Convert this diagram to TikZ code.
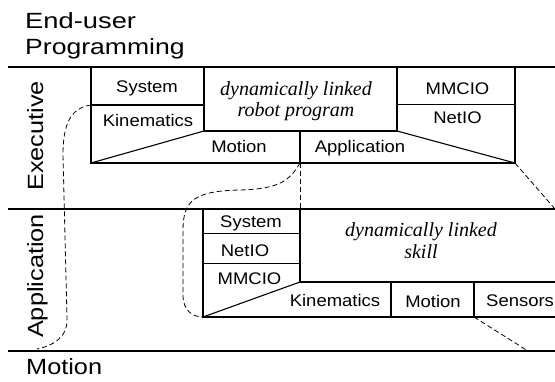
\documentclass[tikz,border=0pt]{standalone}
\usepackage{fontspec}
\usepackage{graphicx}
\setmainfont{Liberation Sans}
\newfontfamily\boxsans{Liberation Sans}[FakeStretch=1.1]
\newfontfamily\bigsans{Liberation Sans}[FakeStretch=1.15]
\newfontfamily\seritfont{Liberation Serif}
\begin{document}
\begin{tikzpicture}[x=1pt,y=-1pt,
  lbl/.style={font=\boxsans\fontsize{16.8}{18}\selectfont, inner sep=0pt, anchor=base},
  biglbl/.style={font=\bigsans\fontsize{22}{24}\selectfont, inner sep=0pt},
  ital/.style={font=\seritfont\itshape\fontsize{20}{21}\selectfont, inner sep=0pt, anchor=base},
  rule/.style={line width=1.3pt},
  box/.style={line width=1.1pt},
  dashline/.style={dash pattern=on 5pt off 3pt, line width=0.8pt}]
\useasboundingbox (0,0) rectangle (555,382);

% layer rules
\draw[rule] (8,67) -- (555,67);
\draw[rule] (8,209) -- (555,209);
\draw[rule] (8,351) -- (555,351);

% layer labels
\node[biglbl, anchor=base west] (eu) at (25,28.5) {\scalebox{1.08}[1]{End-user}};
\node[biglbl, anchor=base west] (pr) at (25,55) {\scalebox{1.05}[1]{Programming}};
\node[biglbl, anchor=base, rotate=90] (ex) at (43,136) {Executive};
\node[biglbl, anchor=base, rotate=90] (ap) at (43,276) {Application};
\node[biglbl, anchor=base west] (mo) at (26,375) {Motion};

% upper box
\coordinate (uTL) at (91,67);
\coordinate (uBL) at (91,163);
\coordinate (uBR) at (515,163);
\coordinate (uTR) at (515,67);
\coordinate (uK) at (91,105);
\coordinate (uKR) at (204,105);
\coordinate (uM1) at (204,131);
\coordinate (uM2) at (397,131);
\coordinate (uA) at (300,131);
\coordinate (uAB) at (300,163);
\draw[box] (uTL) -- (uBL) -- (uBR) -- (uTR);
\draw[box] (uK) -- (uKR);
\draw[box] (204,67) -- (uM1) -- (uM2) -- (397,67);
\draw[box] (397,104.5) -- (515,104.5);
\draw[box] (uBL) -- (uM1);
\draw[box] (uM2) -- (uBR);
\draw[box] (uA) -- (uAB);

\node[lbl] (s1) at (147,92.5) {System};
\node[lbl] (k1) at (148,127) {Kinematics};
\node[lbl] (m1) at (239,153) {Motion};
\node[lbl] (a1) at (360,153) {Application};
\node[lbl] (mm1) at (457.5,95) {MMCIO};
\node[lbl] (n1) at (457.5,124) {NetIO};
\node[ital] (d1) at (296,96) {dynamically linked};
\node[ital] (d2) at (296,116.7) {robot program};

% lower box
\coordinate (lTL) at (203,209);
\coordinate (lBL) at (203,317);
\coordinate (lBR) at (555,317);
\coordinate (lC) at (300,282);
\coordinate (lCT) at (300,209);
\coordinate (lS) at (474,317);
\draw[box] (lTL) -- (lBL) -- (lBR);
\draw[box] (lCT) -- (lC) -- (555,282);
\draw[box] (203,233.5) -- (300,233.5);
\draw[box] (203,263.5) -- (300,263.5);
\draw[box] (lBL) -- (lC);
\draw[box] (391,282) -- (391,317);
\draw[box] (lS) -- (474,282);

\node[lbl] (s2) at (251,227.5) {System};
\node[lbl] (n2) at (245,256.7) {NetIO};
\node[lbl] (mm2) at (249.5,285) {MMCIO};
\node[ital] (d3) at (421,237) {dynamically linked};
\node[ital] (d4) at (421,259) {skill};
\node[lbl] (k2) at (335,307) {Kinematics};
\node[lbl] (m2) at (433,307.5) {Motion};
\node[lbl, anchor=base west] (se2) at (486,307) {Sensors};

% dashed connections
\coordinate (eR) at (555,209);
\coordinate (mE) at (528,351);
\coordinate (mL) at (37,349);
\draw[dashline] (uK) .. controls (70,108) and (63,125) .. (63,155)
   -- (67,318) .. controls (68,338) and (52,346) .. (mL);
\draw[dashline] (uAB) -- (lCT);
\draw[dashline] (uAB) .. controls (290,180) and (280,189) .. (240,190)
   .. controls (195,191) and (183,200) .. (183,230)
   -- (183,295) .. controls (183,310) and (192,317) .. (lBL);
\draw[dashline] (uBR) -- (eR);
\draw[dashline] (lS) -- (mE);
\end{tikzpicture}
\end{document}
